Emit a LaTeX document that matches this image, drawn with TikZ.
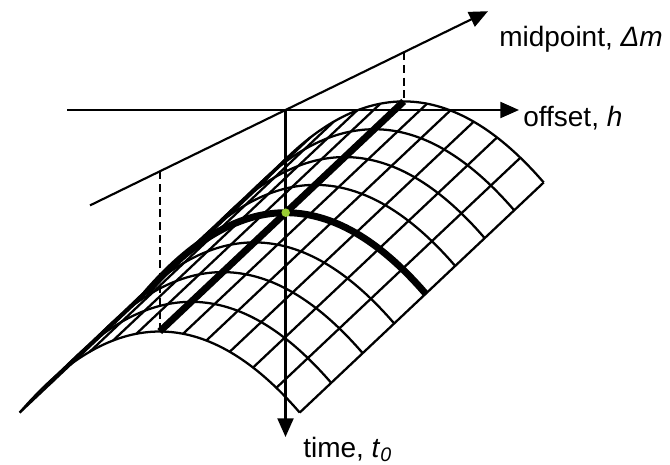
\documentclass[tikz,border=0pt]{standalone}
\usepackage{fontspec}
\setmainfont{Liberation Sans}
\usepackage{tikz}
\usetikzlibrary{arrows.meta,calc,positioning}
\usepackage{xcolor}
\definecolor{apexgreen}{HTML}{9ACD32}
% surface point (midpoint m, offset h), picture units = pixels
\newcommand{\surfx}[2]{285.7+(#1)+(#2)}
\newcommand{\surfy}[2]{212.7-0.943*(#1)+0.00413*(#2)*(#2)}
\tikzset{
  axis/.style={line width=1.6pt, -{Triangle[length=14pt,width=12pt]}},
  gridline/.style={line width=1.7pt},
  thickline/.style={line width=5.2pt},
  dropline/.style={line width=1.4pt, dash pattern=on 6pt off 3.5pt},
  axislabel/.style={anchor=base west, inner sep=0pt, font=\fontsize{21}{24}\selectfont},
}
\begin{document}
\begin{tikzpicture}[x=0.75pt, y=-0.75pt]
\useasboundingbox (0,0) rectangle (670,464);
% Curve a midpoint costante
\foreach \m in {-126,-94.5,-63,-31.5,0,29.5,59,88.5,118}
  \draw[gridline] plot[domain=-140:140, samples=57, smooth] ({\surfx{\m}{\x}},{\surfy{\m}{\x}});
% Rette a offset costante
\foreach \i in {-6,...,6} {
  \pgfmathsetmacro{\h}{23.3333*\i}
  \draw[gridline] ({\surfx{-126}{\h}},{\surfy{-126}{\h}}) -- ({\surfx{118}{\h}},{\surfy{118}{\h}});
}
% Punti notevoli
\coordinate (front) at ({\surfx{-126}{0}},{\surfy{-126}{0}});
\coordinate (back) at ({\surfx{118}{0}},{\surfy{118}{0}});
\coordinate (apex) at ({\surfx{0}{0}},{\surfy{0}{0}});
% Linee spesse
\draw[thickline] (front) -- (back);
\draw[thickline] plot[domain=-140:140, samples=57, smooth] ({\surfx{0}{\x}},{\surfy{0}{\x}});
% Assi
\coordinate (O) at (285.5,110);
\coordinate (hstart) at (67,110);
\coordinate (hend) at (519,110);
\coordinate (tend) at (285.5,437);
\coordinate (mstart) at (90,205.4);
\coordinate (mend) at (488,11.2);
\coordinate (mfront) at (159.7,171.4);
\coordinate (mback) at (403.7,52.3);
\draw[axis] (hstart) -- (hend);
\draw[axis] (O) -- (tend);
\draw[axis] (mstart) -- (mend);
\draw[dropline] (mfront) -- (front);
\draw[dropline] (mback) -- (back);
\fill[apexgreen] (apex) circle[radius=3.2pt];
% Label assi
\node[axislabel] (mlabel) at (499,46.7) {midpoint, \textit{Δm}};
\node[axislabel] (hlabel) at (523,126.7) {offset, \textit{h}};
\node[axislabel] (tlabel) at (303,457) {time, \textit{t}\textsubscript{\textit{0}}};
\end{tikzpicture}
\end{document}
